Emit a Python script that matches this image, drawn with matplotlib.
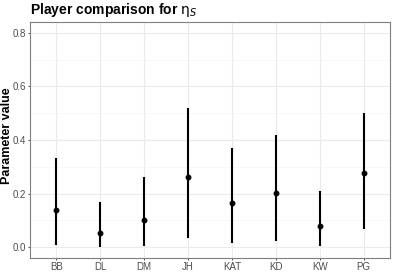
import matplotlib.pyplot as plt
import numpy as np

plt.rcParams['font.family'] = ['Liberation Sans', 'DejaVu Sans']
plt.rcParams['mathtext.fontset'] = 'dejavusans'

# player estimates with interval bounds
players = ['BB', 'DL', 'DM', 'JH', 'KAT', 'KD', 'KW', 'PG']
estimate = [0.140, 0.052, 0.102, 0.262, 0.164, 0.202, 0.078, 0.278]
lower = [0.009, 0.001, 0.005, 0.036, 0.016, 0.025, 0.004, 0.067]
upper = [0.334, 0.169, 0.263, 0.520, 0.370, 0.418, 0.211, 0.501]

fig = plt.figure(figsize=(3.93, 2.73), dpi=100)
ax = fig.add_axes([30 / 393, 1 - 258 / 273, 360 / 393, 236 / 273])

x = np.arange(len(players))
ax.vlines(x, lower, upper, color='black', linewidth=1.5, zorder=3)
ax.plot(x, estimate, 'o', color='black', markersize=3.2, zorder=4)

# axes ranges like ggplot expansion
ax.set_xlim(-0.6, len(players) - 0.4)
ax.set_ylim(-0.04, 0.84)

ax.set_yticks([0.0, 0.2, 0.4, 0.6, 0.8])
ax.set_yticklabels(['0.0', '0.2', '0.4', '0.6', '0.8'])
ax.set_yticks([0.1, 0.3, 0.5, 0.7], minor=True)
ax.set_xticks(x)
ax.set_xticklabels(players)

# grid
ax.grid(True, which='major', color='#ebebeb', linewidth=0.8)
ax.grid(True, which='minor', axis='y', color='#f4f4f4', linewidth=0.5)
ax.set_axisbelow(True)

ax.tick_params(axis='both', which='major', labelsize=7, labelcolor='#4d4d4d',
               color='#333333', length=1.6, width=0.6, pad=1.2)
ax.tick_params(axis='y', which='minor', length=0)
for s in ax.spines.values():
    s.set_color('#7f7f7f')
    s.set_linewidth(0.8)

fig.text(7 / 393, 1 - 136 / 273, 'Parameter value', fontsize=9,
         fontweight='bold', rotation=90, ha='center', va='center')
fig.text(30 / 393, 1 - 14 / 273, r'Player comparison for $\mathrm{\eta}_S$',
         fontsize=10, fontweight='bold', ha='left', va='baseline')

fig.savefig('out.png', dpi=100)
